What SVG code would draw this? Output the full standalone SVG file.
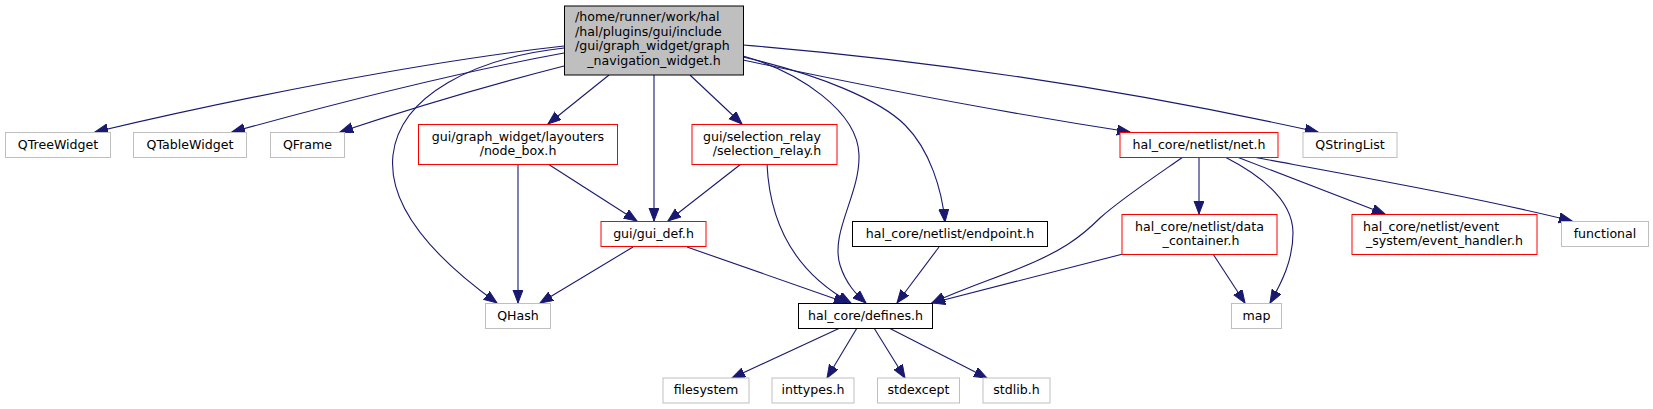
<svg xmlns="http://www.w3.org/2000/svg" width="1653" height="409" viewBox="0 0 1653 409">
<style>
text{font-family:"DejaVu Sans","Liberation Sans",sans-serif;font-size:12.6px;fill:#000}
.m{text-anchor:middle}
.n rect{fill:#fff;stroke-width:1}
.r rect{stroke:#ff0000}
.g rect{stroke:#bfbfbf}
.k rect{stroke:#000}
#edges path{fill:none;stroke:#191970;stroke-width:1.1;marker-end:url(#a)}
</style>
<defs>
<marker id="a" markerWidth="15" markerHeight="12" refX="13" refY="5" orient="auto" markerUnits="userSpaceOnUse"><path d="M0,0 L13,5 L0,10 z" fill="#191970" stroke="#191970" stroke-width="1"/></marker>
</defs>
<rect width="1653" height="409" fill="#fff"/>
<g id="edges">
<path d="M564,46 C420,62 230,100 95,132"/>
<path d="M564,53 C460,72 330,105 232,132"/>
<path d="M564,66 C490,85 400,112 340,132"/>
<path d="M564,48 C475,58 400,95 393,155 C387,210 440,262 497,303"/>
<path d="M609,75 L548,124"/>
<path d="M654,75 L654,221"/>
<path d="M690,75 L742,124"/>
<path d="M743,56 C800,72 858,112 859,155 C860,195 830,232 840,265 C846,284 856,294 866,303"/>
<path d="M743,57 C820,75 880,100 905,125 C930,150 942,190 945,222"/>
<path d="M743,60 C860,85 1000,112 1130,132"/>
<path d="M743,45 C950,62 1150,95 1318,132"/>
<path d="M518,164 L518,303"/>
<path d="M548,164 L637,221"/>
<path d="M741,164 L668,221"/>
<path d="M767,164 C770,230 800,275 851,303"/>
<path d="M633,247 L540,303"/>
<path d="M687,247 L847,303"/>
<path d="M939,247 L897,303"/>
<path d="M1183,157 C1150,180 1120,200 1100,218 C1080,238 1060,252 1020,268 C990,280 955,292 932,303"/>
<path d="M1123,254 L932,303"/>
<path d="M1199,157 L1199,214"/>
<path d="M1225,157 C1270,180 1293,205 1293,233 C1293,260 1282,282 1270,303"/>
<path d="M1213,254 L1245,303"/>
<path d="M1237,157 L1385,214"/>
<path d="M1253,157 C1350,175 1480,198 1572,221"/>
<path d="M840,328 L732,378"/>
<path d="M857,328 L827,378"/>
<path d="M874,328 L905,378"/>
<path d="M889,328 L987,378"/>
</g>
<g id="main" class="n k"><rect x="564.5" y="6" width="179" height="69" style="fill:#bfbfbf"/>
<text x="575" y="21">/home/runner/work/hal</text>
<text x="575" y="35.5">/hal/plugins/gui/include</text>
<text x="575" y="50">/gui/graph_widget/graph</text>
<text class="m" x="654" y="64.5">_navigation_widget.h</text></g>
<g id="qtreewidget" class="n g"><rect x="5.5" y="132.5" width="105" height="25"/><text class="m" x="58" y="148.5">QTreeWidget</text></g>
<g id="qtablewidget" class="n g"><rect x="133.5" y="132.5" width="113" height="25"/><text class="m" x="190" y="148.5">QTableWidget</text></g>
<g id="qframe" class="n g"><rect x="270.5" y="132.5" width="74" height="25"/><text class="m" x="307.5" y="148.5">QFrame</text></g>
<g id="node_box" class="n r"><rect x="418.5" y="124.5" width="199" height="40"/><text class="m" x="518" y="140.5">gui/graph_widget/layouters</text><text class="m" x="518" y="155">/node_box.h</text></g>
<g id="gui_def" class="n r"><rect x="601" y="221.5" width="105" height="25"/><text class="m" x="653.5" y="237.5">gui/gui_def.h</text></g>
<g id="selection_relay" class="n r"><rect x="692" y="124.5" width="145" height="40"/><text x="703" y="140.5">gui/selection_relay</text><text class="m" x="767" y="155">/selection_relay.h</text></g>
<g id="qhash" class="n g"><rect x="485.5" y="303.5" width="65" height="25"/><text class="m" x="518" y="319.5">QHash</text></g>
<g id="defines" class="n k"><rect x="798.5" y="303.5" width="134" height="25"/><text class="m" x="865.5" y="319.5">hal_core/defines.h</text></g>
<g id="endpoint" class="n k"><rect x="852.5" y="221.5" width="195" height="25"/><text class="m" x="950" y="237.5">hal_core/netlist/endpoint.h</text></g>
<g id="net" class="n r"><rect x="1120" y="132.5" width="158" height="25"/><text class="m" x="1199" y="148.5">hal_core/netlist/net.h</text></g>
<g id="data_container" class="n r"><rect x="1122" y="214.5" width="155" height="40"/><text class="m" x="1199.5" y="230.5">hal_core/netlist/data</text><text class="m" x="1201" y="245">_container.h</text></g>
<g id="map" class="n g"><rect x="1231.5" y="303.5" width="50" height="25"/><text class="m" x="1256.5" y="319.5">map</text></g>
<g id="event_handler" class="n r"><rect x="1352" y="214.5" width="185" height="40"/><text x="1363" y="230.5">hal_core/netlist/event</text><text class="m" x="1444.5" y="245">_system/event_handler.h</text></g>
<g id="functional" class="n g"><rect x="1561.5" y="221.5" width="87" height="25"/><text class="m" x="1605" y="237.5">functional</text></g>
<g id="qstringlist" class="n g"><rect x="1303" y="132.5" width="94" height="25"/><text class="m" x="1350" y="148.5">QStringList</text></g>
<g id="filesystem" class="n g"><rect x="663" y="378" width="86" height="25"/><text class="m" x="706" y="394">filesystem</text></g>
<g id="inttypes" class="n g"><rect x="772" y="378" width="82" height="25"/><text class="m" x="813" y="394">inttypes.h</text></g>
<g id="stdexcept" class="n g"><rect x="877.5" y="378" width="82" height="25"/><text class="m" x="918.5" y="394">stdexcept</text></g>
<g id="stdlib" class="n g"><rect x="983" y="378" width="67" height="25"/><text class="m" x="1016.5" y="394">stdlib.h</text></g>
</svg>
